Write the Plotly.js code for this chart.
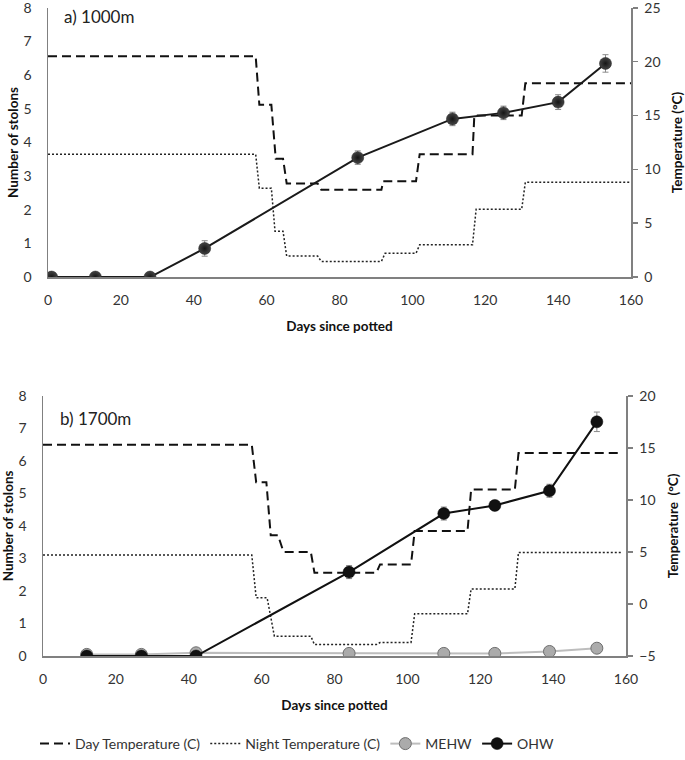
<!DOCTYPE html>
<html>
<head>
<meta charset="utf-8">
<script src="https://cdn.plot.ly/plotly-3.0.1.min.js"></script>
<style>html,body{margin:0;padding:0;background:#fff;}#chart{width:685px;height:760px;}</style>
</head>
<body>
<div id="chart"></div>
<script>
// ---------- Data ----------
// Panel a) 1000m
const daysA = [1, 13, 28, 43, 85, 111, 125, 140, 153];
const ohwA = [0, 0, 0, 0.85, 3.55, 4.7, 4.88, 5.2, 6.35];
const ohwAErr = [0, 0, 0, 0.23, 0.2, 0.2, 0.2, 0.22, 0.26];

const dayTempA_start = [0, 58, 62.5, 65.5, 75, 92, 102, 117, 131];
const dayTempA_end = [57, 61.3, 64.5, 74, 91.5, 101, 116.5, 130, 160];
const dayTempA_val = [20.5, 16.0, 11.0, 8.7, 8.1, 8.9, 11.4, 15.0, 18.0];

const nightTempA_start = [0, 58, 62.3, 65.5, 75, 92.5, 102, 117.5, 131];
const nightTempA_end = [57, 61.3, 64.5, 74, 91.5, 101, 116.5, 130, 160];
const nightTempA_val = [11.4, 8.25, 4.25, 1.95, 1.45, 2.2, 3.0, 6.3, 8.8];

// Panel b) 1700m
const daysB = [12, 27, 42, 84, 110, 124, 139, 152];
const ohwB = [0, 0, 0, 2.58, 4.38, 4.63, 5.08, 7.2];
const ohwBErr = [0, 0, 0, 0.2, 0.2, 0.15, 0.2, 0.3];
const mehwB = [0.05, 0.05, 0.1, 0.08, 0.08, 0.08, 0.14, 0.24];

const dayTempB_start = [0, 58.5, 62.5, 66, 74.5, 92.5, 102, 117.5, 130.5];
const dayTempB_end = [57.3, 61.3, 64.5, 73.5, 91.5, 101, 116.5, 129.5, 158];
const dayTempB_val = [15.3, 11.7, 6.6, 5.0, 3.0, 3.8, 7.0, 11.0, 14.5];

const nightTempB_start = [0, 58.5, 63.5, 74.5, 92.5, 102, 117.5, 130.5];
const nightTempB_end = [57.3, 61.5, 73.5, 91.5, 101, 116.5, 129.5, 158.8];
const nightTempB_val = [4.7, 0.6, -3.1, -3.9, -3.7, -0.95, 1.45, 4.95];

const xTicks = [0, 20, 40, 60, 80, 100, 120, 140, 160];

// ---------- Helpers ----------
function steps(starts, ends, vals) {
  const x = [], y = [];
  for (let i = 0; i < vals.length; i++) {
    x.push(starts[i], ends[i]);
    y.push(vals[i], vals[i]);
  }
  return {x, y};
}

const FONT = 'Lato, "Open Sans", sans-serif';
const AXC = '#808080';
const TXT = '#333333';
const dashDay = '9px,5px';
const dashNight = '2px,2px';

const sDA = steps(dayTempA_start, dayTempA_end, dayTempA_val);
const sNA = steps(nightTempA_start, nightTempA_end, nightTempA_val);
const sDB = steps(dayTempB_start, dayTempB_end, dayTempB_val);
const sNB = steps(nightTempB_start, nightTempB_end, nightTempB_val);

const traces = [
  // top temperatures
  {x: sDA.x, y: sDA.y, xaxis: 'x', yaxis: 'y', mode: 'lines', type: 'scatter',
   line: {color: '#111', width: 2, dash: dashDay}, showlegend: false, hoverinfo: 'skip'},
  {x: sNA.x, y: sNA.y, xaxis: 'x', yaxis: 'y', mode: 'lines', type: 'scatter',
   line: {color: '#222', width: 1.5, dash: dashNight}, showlegend: false, hoverinfo: 'skip'},
  // top OHW
  {x: daysA, y: ohwA, xaxis: 'x', yaxis: 'y2', mode: 'lines+markers', type: 'scatter',
   line: {color: '#1a1a1a', width: 2},
   marker: {size: 12, color: '#444444', gradient: {type: 'radial', color: '#151515'}, line: {color: '#1a1a1a', width: 0.5}},
   error_y: {type: 'data', array: ohwAErr, color: '#8a8a8a', thickness: 1, width: 3},
   showlegend: false},
  // bottom temperatures
  {x: sDB.x, y: sDB.y, xaxis: 'x2', yaxis: 'y3', mode: 'lines', type: 'scatter', name: 'Day Temperature (C)',
   line: {color: '#111', width: 2, dash: dashDay}},
  {x: sNB.x, y: sNB.y, xaxis: 'x2', yaxis: 'y3', mode: 'lines', type: 'scatter', name: 'Night Temperature (C)',
   line: {color: '#222', width: 1.5, dash: dashNight}},
  // bottom MEHW & OHW
  {x: daysB, y: mehwB, xaxis: 'x2', yaxis: 'y4', mode: 'lines+markers', type: 'scatter', name: 'MEHW',
   line: {color: '#bdbdbd', width: 2},
   marker: {size: 12, color: '#ababab', line: {color: '#6e6e6e', width: 1}}},
  {x: daysB, y: ohwB, xaxis: 'x2', yaxis: 'y4', mode: 'lines+markers', type: 'scatter', name: 'OHW',
   line: {color: '#111', width: 2},
   marker: {size: 12, color: '#111', line: {color: '#000', width: 0.5}},
   error_y: {type: 'data', array: ohwBErr, color: '#8a8a8a', thickness: 1, width: 3}}
];

const tickFont = {family: FONT, size: 14, color: TXT};
const titleFont = {family: FONT, size: 13.5, color: '#111', weight: 'bold'};

function xAxis(domain, anchor) {
  return {domain, anchor, range: [0, 160], tickvals: xTicks, ticktext: xTicks.map(String),
    showline: true, linecolor: AXC, linewidth: 1.5, ticks: '', showgrid: false, zeroline: false,
    tickfont: tickFont, ticklabelstandoff: 10,
    title: {text: 'Days since potted', font: titleFont, standoff: 14}};
}
function leftAxis(over, anchor) {
  return {overlaying: over, anchor, side: 'left', range: [0, 8], dtick: 1, tick0: 0,
    showline: true, linecolor: AXC, linewidth: 1.5, ticks: '', showgrid: false, zeroline: false,
    tickfont: tickFont, ticklabelstandoff: 12, ticklabeloverflow: 'allow',
    title: {text: 'Number of stolons', font: titleFont, standoff: 2}};
}
function rightAxis(domain, anchor, range, title) {
  return {domain, anchor, side: 'right', range, dtick: 5, tick0: 0,
    showline: true, linecolor: AXC, linewidth: 1.5, ticks: 'outside', ticklen: 5, tickcolor: AXC, tickwidth: 1.5,
    showgrid: false, zeroline: false, tickfont: tickFont, ticklabelstandoff: 4, ticklabeloverflow: 'allow',
    title: {text: title, font: titleFont, standoff: 14}};
}

const W = 685, H = 760;
const layout = {
  width: W, height: H,
  margin: {l: 0, r: 0, t: 0, b: 0},
  paper_bgcolor: '#fff', plot_bgcolor: 'rgba(0,0,0,0)',
  font: {family: FONT, color: TXT},
  xaxis: xAxis([48 / W, 631 / W], 'y'),
  yaxis: rightAxis([1 - 280 / H, 1 - 8 / H], 'x', [0, 25], 'Temperature (°C)'),
  yaxis2: leftAxis('y', 'x'),
  xaxis2: xAxis([43 / W, 626 / W], 'y3'),
  yaxis3: rightAxis([1 - 663 / H, 1 - 400 / H], 'x2', [-5, 20], 'Temperature\u00a0 (°C)'),
  yaxis4: leftAxis('y3', 'x2'),
  showlegend: true,
  legend: {orientation: 'h', x: 35 / W, xanchor: 'left', y: 1 - 752 / H, yanchor: 'middle',
    font: {family: FONT, size: 14, color: TXT}, traceorder: 'normal', itemwidth: 30, bgcolor: 'rgba(0,0,0,0)'},
  annotations: [
    {text: 'a) 1000m', xref: 'paper', yref: 'paper', x: 62 / W, y: 1 - 17 / H, xanchor: 'left', yanchor: 'middle',
     showarrow: false, font: {family: FONT, size: 17, color: '#222'}},
    {text: 'b) 1700m', xref: 'paper', yref: 'paper', x: 58 / W, y: 1 - 423 / H, xanchor: 'left', yanchor: 'middle',
     showarrow: false, font: {family: FONT, size: 17, color: '#222'}}
  ]
};

Plotly.newPlot('chart', traces, layout, {staticPlot: true, displayModeBar: false});
</script>
</body>
</html>
